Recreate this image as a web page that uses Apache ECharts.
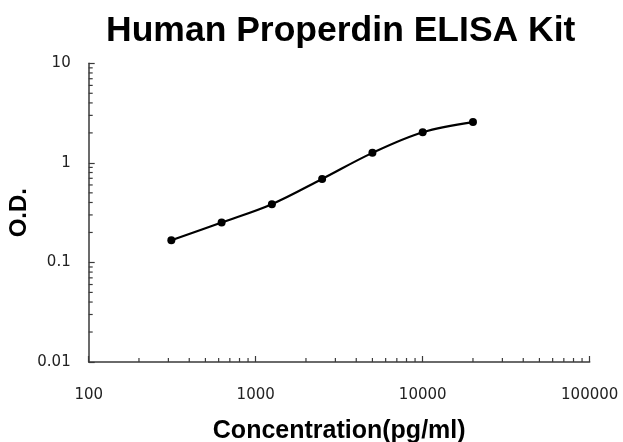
<!DOCTYPE html>
<html>
<head>
<meta charset="utf-8">
<script src="https://cdn.jsdelivr.net/npm/echarts@6/dist/echarts.min.js"></script>
<style>html,body{margin:0;padding:0;background:#fff}#c{width:623px;height:442px}</style>
</head>
<body>
<div id="c"></div>
<script>
var concentrations = [312.5, 625, 1250, 2500, 5000, 10000, 20000];
var odValues = [0.167, 0.252, 0.385, 0.69, 1.26, 2.03, 2.57];
var xMinorTicks = [200,300,400,500,600,700,800,900,2000,3000,4000,5000,6000,7000,8000,9000,20000,30000,40000,50000,60000,70000,80000,90000];
var yMinorTicks = [0.02,0.03,0.04,0.05,0.06,0.07,0.08,0.09,0.2,0.3,0.4,0.5,0.6,0.7,0.8,0.9,2,3,4,5,6,7,8,9];
var titleText = 'Human Properdin ELISA Kit';
var xName = 'Concentration(pg/ml)';
var yName = 'O.D.';
var xRange = [100, 100000];
var yRange = [0.01, 10];

var chart = echarts.init(document.getElementById('c'), null, {renderer: 'canvas'});
function fmt(v){ return String(parseFloat(Number(v).toPrecision(6))); }
var axisCol = '#3a3a3a';
var option = {
  backgroundColor: '#fff',
  animation: false,
  title: {
    text: titleText,
    left: 101, top: 8,
    textStyle: {fontFamily: 'Liberation Sans', fontWeight: 'bold', fontSize: 35.5, color: '#000'}
  },
  grid: {left: 88.7, right: 33.3, top: 63.3, bottom: 80, containLabel: false, outerBoundsMode: 'none'},
  xAxis: {
    type: 'log', logBase: 10, min: xRange[0], max: xRange[1],
    name: xName, nameLocation: 'middle', nameGap: 56.5, nameMoveOverlap: false,
    nameTextStyle: {fontFamily: 'Liberation Sans', fontWeight: 'bold', fontSize: 25, color: '#000'},
    axisLine: {lineStyle: {color: axisCol, width: 1.5}},
    axisTick: {inside: true, length: 6, lineStyle: {color: axisCol, width: 1.2}},
    splitLine: {show: false},
    axisLabel: {margin: 26, fontFamily: 'DejaVu Sans', fontSize: 15, color: '#222', formatter: fmt}
  },
  yAxis: {
    type: 'log', logBase: 10, min: yRange[0], max: yRange[1],
    name: yName, nameLocation: 'middle', nameGap: 57.5, nameRotate: 90, nameMoveOverlap: false,
    nameTextStyle: {fontFamily: 'Liberation Sans', fontWeight: 'bold', fontSize: 24, color: '#000'},
    axisLine: {lineStyle: {color: axisCol, width: 1.5}},
    axisTick: {inside: true, length: 6, lineStyle: {color: axisCol, width: 1.2}},
    splitLine: {show: false},
    axisLabel: {margin: 18, fontFamily: 'DejaVu Sans', fontSize: 15, color: '#222', formatter: fmt}
  },
  series: [
    {
      type: 'custom', silent: true, clip: false,
      data: xMinorTicks.map(function(v){ return [v, yRange[0]]; }),
      renderItem: function(params, api){
        var p = api.coord([api.value(0), api.value(1)]);
        return {type: 'line', shape: {x1: p[0], y1: p[1], x2: p[0], y2: p[1] - 4}, style: {stroke: axisCol, lineWidth: 1.2}};
      }
    },
    {
      type: 'custom', silent: true, clip: false,
      data: yMinorTicks.map(function(v){ return [xRange[0], v]; }),
      renderItem: function(params, api){
        var p = api.coord([api.value(0), api.value(1)]);
        return {type: 'line', shape: {x1: p[0], y1: p[1], x2: p[0] + 4, y2: p[1]}, style: {stroke: axisCol, lineWidth: 1.2}};
      }
    },
    {
      type: 'line', smooth: 0.35,
      data: concentrations.map(function(c, i){ return [c, odValues[i]]; }),
      lineStyle: {color: '#000', width: 2.2},
      itemStyle: {color: '#000'},
      symbol: 'circle', symbolSize: 8, showSymbol: true
    }
  ]
};
chart.setOption(option);
</script>
</body>
</html>
